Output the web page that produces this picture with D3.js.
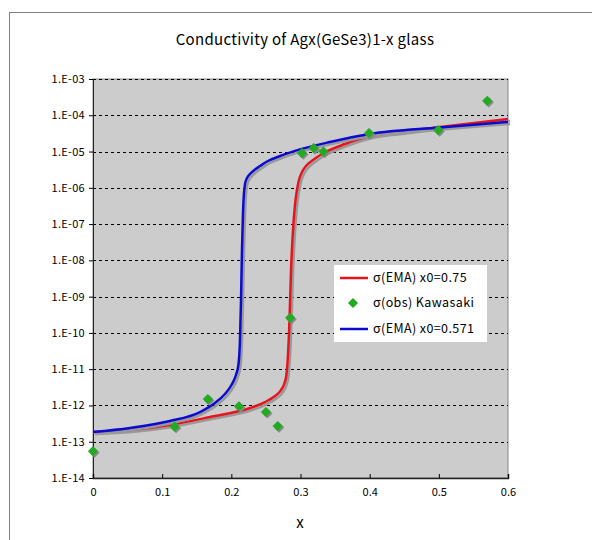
<!DOCTYPE html>
<html>
<head>
<meta charset="utf-8">
<script src="https://cdn.jsdelivr.net/npm/d3@7"></script>
<style>
  body { margin: 0; background: #fff; }
  text { font-family: "Noto Sans CJK JP", "DejaVu Sans", sans-serif; fill: #000; }
</style>
</head>
<body>
<svg id="chart" width="592" height="540"></svg>
<script>
// data
var xTicks = [0, 0.1, 0.2, 0.3, 0.4, 0.5, 0.6];
var xTickLabels = ["0", "0.1", "0.2", "0.3", "0.4", "0.5", "0.6"];
var yTicks = [1e-3, 1e-4, 1e-5, 1e-6, 1e-7, 1e-8, 1e-9, 1e-10, 1e-11, 1e-12, 1e-13, 1e-14];
var yTickLabels = ["1.E-03", "1.E-04", "1.E-05", "1.E-06", "1.E-07", "1.E-08", "1.E-09",
                   "1.E-10", "1.E-11", "1.E-12", "1.E-13", "1.E-14"];

// sigma(EMA) x0=0.75 (red)
var redX = [0, 0.0535, 0.1113, 0.1692, 0.227, 0.2487, 0.2631, 0.2718, 0.2769, 0.2798, 0.2819, 0.2841, 0.2863, 0.2892,
            0.292, 0.2949, 0.2978, 0.3022, 0.308, 0.3181, 0.3311, 0.3643, 0.4005, 0.4439, 0.5017, 0.6];
var redY = [1.85e-13, 2.1e-13, 2.89e-13, 4.8e-13, 8.49e-13, 1.24e-12, 1.82e-12, 2.66e-12, 4.15e-12, 7.36e-12, 2.46e-11, 2.26e-10, 5.42e-9, 6.87e-8,
            3.36e-7, 8.71e-7, 1.64e-6, 2.73e-6, 3.99e-6, 5.85e-6, 8.55e-6, 1.61e-5, 2.68e-5, 3.46e-5, 4.75e-5, 7.89e-5];

// sigma(EMA) x0=0.571 (blue)
var blueX = [0, 0.0535, 0.1113, 0.1547, 0.1764, 0.1908, 0.201, 0.2067, 0.2104, 0.2125, 0.214, 0.2154, 0.2169,
             0.2183, 0.2198, 0.2227, 0.227, 0.2342, 0.2415, 0.253, 0.2704, 0.292, 0.3427, 0.4005, 0.5017, 0.6];
var blueY = [1.85e-13, 2.39e-13, 3.72e-13, 6.59e-13, 1.17e-12, 2.07e-12, 3.9e-12, 6.9e-12, 1.39e-11, 6.37e-11, 8.07e-10, 1.93e-8, 2.15e-7,
             7.19e-7, 1.27e-6, 1.86e-6, 2.4e-6, 3.2e-6, 3.99e-6, 5.48e-6, 7.53e-6, 1.04e-5, 1.83e-5, 3.05e-5, 4.6e-5, 6.52e-5];

// sigma(obs) Kawasaki (green diamonds)
var obsX = [0, 0.118, 0.166, 0.211, 0.250, 0.267, 0.285, 0.302, 0.319, 0.333, 0.399, 0.499, 0.570];
var obsY = [5.5e-14, 2.6e-13, 1.5e-12, 9.5e-13, 6.6e-13, 2.7e-13, 2.6e-10, 9.1e-6, 1.25e-5, 1.0e-5, 3.2e-5, 3.9e-5, 2.5e-4];

var legendLabels = ["\u03c3(EMA) x0=0.75", "\u03c3(obs) Kawasaki", "\u03c3(EMA) x0=0.571"];

function drawChart() {
    var svg = d3.select("#chart");

    // outer chart frame (runs off the window)
    svg.append("rect")
        .attr("x", 9.5).attr("y", 12.5)
        .attr("width", 620).attr("height", 560)
        .attr("fill", "#fff")
        .attr("stroke", "#808080");

    var pLeft = 93, pRight = 508, pTop = 79, pBottom = 478;

    var x = d3.scaleLinear().domain([0, 0.6]).range([pLeft, pRight]);
    var y = d3.scaleLog().domain([1e-14, 1e-3]).range([pBottom, pTop]);

    // plot area
    svg.append("rect")
        .attr("x", pLeft).attr("y", pTop)
        .attr("width", pRight - pLeft).attr("height", pBottom - pTop)
        .attr("fill", "#cccccc")
        .attr("stroke", "#888");

    // gridlines
    svg.append("g").selectAll("line")
        .data(yTicks.slice(0, yTicks.length - 1))
        .enter().append("line")
        .attr("x1", pLeft).attr("x2", pRight)
        .attr("y1", function(d) { return Math.round(y(d)) + 0.5; })
        .attr("y2", function(d) { return Math.round(y(d)) + 0.5; })
        .attr("stroke", "#000")
        .attr("stroke-dasharray", "3,3");

    // y axis
    var yAxis = d3.axisLeft(y)
        .tickValues(yTicks)
        .tickSize(4)
        .tickFormat(function(d, i) { return yTickLabels[i]; });
    var gy = svg.append("g")
        .attr("transform", "translate(" + pLeft + ",0)")
        .call(yAxis);
    gy.selectAll("text").attr("font-size", 11).attr("x", -8).attr("letter-spacing", 0.3);
    gy.select(".domain").attr("stroke", "#222");

    // x axis, ticks point inward
    var xAxis = d3.axisBottom(x)
        .tickValues(xTicks)
        .tickSize(-4)
        .tickFormat(function(d, i) { return xTickLabels[i]; });
    var gx = svg.append("g")
        .attr("transform", "translate(0," + pBottom + ")")
        .call(xAxis);
    gx.selectAll("text").attr("font-size", 11).attr("y", 10);
    gx.select(".domain").attr("stroke", "#222").attr("stroke-width", 1.5);

    // curves with shadow
    var line = d3.line()
        .x(function(d) { return x(d[0]); })
        .y(function(d) { return y(d[1]); })
        .curve(d3.curveMonotoneX);

    var redData = d3.zip(redX, redY);
    var blueData = d3.zip(blueX, blueY);

    [[redData, "#e8141c"], [blueData, "#0a0ad0"]].forEach(function(s) {
        svg.append("path")
            .attr("d", line(s[0]))
            .attr("transform", "translate(2,2)")
            .attr("fill", "none")
            .attr("stroke", "#999")
            .attr("stroke-width", 2.5);
        svg.append("path")
            .attr("d", line(s[0]))
            .attr("fill", "none")
            .attr("stroke", s[1])
            .attr("stroke-width", 2.5);
    });

    // observed points
    var diamond = d3.symbol().type(d3.symbolSquare).size(52);
    var obs = d3.zip(obsX, obsY);
    svg.append("g").selectAll("path")
        .data(obs).enter().append("path")
        .attr("d", diamond)
        .attr("transform", function(d) { return "translate(" + (x(d[0]) + 1.5) + "," + (y(d[1]) + 1.5) + ") rotate(45)"; })
        .attr("fill", "#888");
    svg.append("g").selectAll("path")
        .data(obs).enter().append("path")
        .attr("d", diamond)
        .attr("transform", function(d) { return "translate(" + x(d[0]) + "," + y(d[1]) + ") rotate(45)"; })
        .attr("fill", "#22aa22");

    // legend
    var lg = svg.append("g");
    lg.append("rect")
        .attr("x", 334).attr("y", 265)
        .attr("width", 153).attr("height", 77)
        .attr("fill", "#fff");
    var rows = [278, 303, 329];
    lg.append("line").attr("x1", 340).attr("x2", 368).attr("y1", rows[0]).attr("y2", rows[0])
        .attr("stroke", "#e8141c").attr("stroke-width", 2.5);
    lg.append("path").attr("d", diamond)
        .attr("transform", "translate(353," + rows[1] + ") rotate(45)")
        .attr("fill", "#22aa22");
    lg.append("line").attr("x1", 340).attr("x2", 368).attr("y1", rows[2]).attr("y2", rows[2])
        .attr("stroke", "#0a0ad0").attr("stroke-width", 2.5);
    lg.selectAll("text").data(legendLabels).enter().append("text")
        .attr("x", 373)
        .attr("y", function(d, i) { return rows[i]; })
        .attr("dy", "0.35em")
        .attr("font-size", 12.5)
        .attr("letter-spacing", 0.4)
        .text(function(d) { return d; });

    // titles
    svg.append("text")
        .attr("x", 305).attr("y", 40)
        .attr("dy", "0.35em")
        .attr("text-anchor", "middle")
        .attr("font-size", 15)
        .attr("letter-spacing", 0.3)
        .text("Conductivity of Agx(GeSe3)1-x glass");
    svg.append("text")
        .attr("x", 300).attr("y", 523)
        .attr("dy", "0.35em")
        .attr("text-anchor", "middle")
        .attr("font-size", 15)
        .text("x");
}

drawChart();
</script>
</body>
</html>
